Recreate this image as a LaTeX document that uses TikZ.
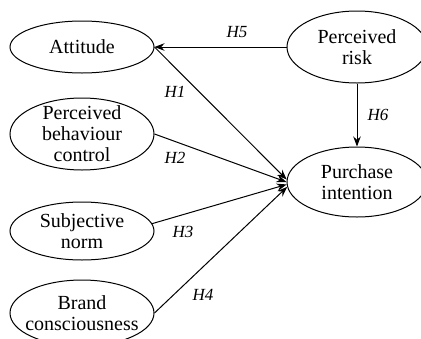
\documentclass[tikz,border=0pt]{standalone}
\usepackage{fontspec}
\setmainfont{Liberation Serif}
\usetikzlibrary{arrows.meta,shapes.geometric}

\begin{document}
\begin{tikzpicture}[
  x=1pt, y=-1pt,
  construct/.style={ellipse, draw=black, line width=1pt,
    minimum width=144pt, inner xsep=-10pt, inner ysep=-14pt,
    align=center, font=\fontsize{20}{21}\selectfont},
  hyp/.style={font=\fontsize{17}{17}\selectfont\itshape, inner sep=1pt},
  flow/.style={-{Stealth[length=10pt,width=7.5pt]},
    draw=black, line width=1pt}
]
\useasboundingbox (0,0) rectangle (421,338);
\node[construct, minimum height=52pt] (attitude) at (82,47) {Attitude};
\node[construct, minimum height=72pt] (control) at (82,134) {Perceived\\behaviour\\control};
\node[construct, minimum height=58pt] (norm) at (82,231) {Subjective\\norm};
\node[construct, minimum height=66pt] (brand) at (82,313) {Brand\\consciousness};
\node[construct, minimum width=140pt, minimum height=72pt] (risk) at (357,47) {Perceived\\risk};
\node[construct, minimum width=140pt, minimum height=70pt] (intention) at (357,182) {Purchase\\intention};
\node[hyp] (h5) at (237,32) {H5};
\node[hyp] (h1) at (175,92) {H1};
\node[hyp] (h2) at (175,158) {H2};
\node[hyp] (h3) at (183,232) {H3};
\node[hyp] (h4) at (203,295) {H4};
\node[hyp] (h6) at (378,115) {H6};
\draw[flow] (risk.west) -- (attitude.east);
\draw[flow] (attitude.east) -- (intention.178);
\draw[flow] (control.east) -- (intention.west);
\draw[flow] (norm.6) -- (intention.182);
\draw[flow] (brand.east) -- (intention.184);
\draw[flow] (risk.south) -- (intention.north);
\end{tikzpicture}
\end{document}
